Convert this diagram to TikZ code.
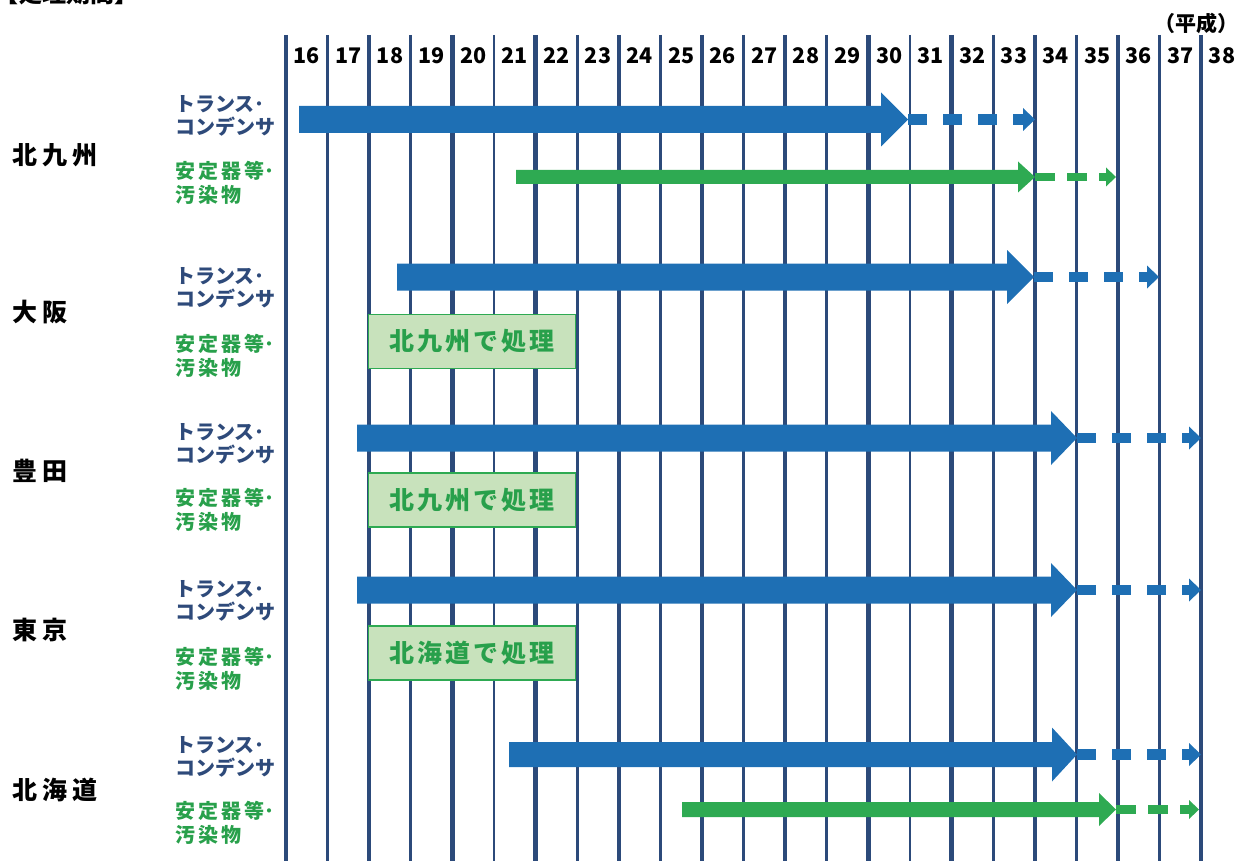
\documentclass[tikz,border=0pt]{standalone}
\usepackage{fontspec}
\setmainfont{Noto Sans CJK JP}
\definecolor{lineblue}{RGB}{44,74,122}
\definecolor{arrowblue}{RGB}{30,111,180}
\definecolor{arrowgreen}{RGB}{46,170,82}
\definecolor{labelblue}{RGB}{46,74,122}
\definecolor{labelgreen}{RGB}{40,160,75}
\definecolor{boxfill}{RGB}{200,226,188}
\definecolor{boxdraw}{RGB}{46,170,82}
% block arrow: style, x1, x2, y, half shaft, half head, head length
\newcommand{\blockarr}[7]{%
  \fill[#1] (#2,#4-#5) -- (#3-#7,#4-#5) -- (#3-#7,#4-#6) -- (#3,#4)
    -- (#3-#7,#4+#6) -- (#3-#7,#4+#5) -- (#2,#4+#5) -- cycle;}
% dashed arrow: line style, fill style, x1, x2, y, half head, head length
\newcommand{\dasharr}[7]{%
  \draw[#1] (#3,#5) -- (#4-#7,#5);
  \fill[#2] (#4-#7,#5-#6) -- (#4,#5) -- (#4-#7,#5+#6) -- cycle;}
\tikzset{
  region/.style={anchor=west, inner sep=0pt, font=\bfseries\fontsize{25}{28}\selectfont, text=black},
  bluelab/.style={anchor=west, inner sep=0pt, align=left, font=\bfseries\fontsize{20}{23.5}\selectfont, text=labelblue},
  greenlab/.style={anchor=west, inner sep=0pt, align=left, font=\bfseries\fontsize{20}{23.5}\selectfont, text=labelgreen},
  yearlab/.style={inner sep=0pt, font=\bfseries\fontsize{21.5}{21.5}\selectfont, text=black},
  procbox/.style={draw=boxdraw, line width=1.5pt, fill=boxfill, minimum width=207pt, minimum height=54pt, inner sep=0pt, font=\bfseries\fontsize{25}{25}\selectfont, text=labelgreen},
  thickv/.style={draw=lineblue, line width=4.5pt},
  thinv/.style={draw=lineblue, line width=2.7pt},
  bluefill/.style={fill=arrowblue},
  greenfill/.style={fill=arrowgreen},
  bluedash/.style={draw=arrowblue, line width=10.5pt, dash pattern=on 19pt off 16pt},
  greendash/.style={draw=arrowgreen, line width=8.5pt, dash pattern=on 20pt off 12pt},
}
\begin{document}
\begin{tikzpicture}[x=1pt,y=-1pt]
\useasboundingbox (0,0) rectangle (1236,861);
% cut-off title
\node[anchor=base west, inner sep=0pt, font=\bfseries\fontsize{24}{24}\selectfont] (title) at (-6,3) {【処理期間】};
% vertical grid lines
\foreach \i in {0,2,...,22} \draw[thickv] (286+41.6*\i,35) -- (286+41.6*\i,861);
\foreach \i in {1,3,...,21} \draw[thinv] (286+41.6*\i,35) -- (286+41.6*\i,861);
% year labels
\foreach \n [count=\k from 0] in {16,...,38}
  \node[yearlab] (y\n) at (286+41.6*\k+20.8,56) {\n};
\node[inner sep=0pt, font=\bfseries\fontsize{21}{21}\selectfont] (era) at (1196,24) {（平成）};
% region labels
\node[region] (kk) at (12,155) {北\hspace{5pt}九\hspace{5pt}州};
\node[region] (os) at (12,312) {大\hspace{5pt}阪};
\node[region] (ty) at (12,471) {豊\hspace{5pt}田};
\node[region] (tk) at (12,630) {東\hspace{5pt}京};
\node[region] (hk) at (12,790) {北\hspace{5pt}海\hspace{5pt}道};
% item labels
\foreach \nm/\yy in {a/116,b/288,c/444,d/601,e/757}
  \node[bluelab] (tl\nm) at (175,\yy) {トランス･\\コンデンサ};
\foreach \nm/\yy in {a/183,b/356,c/510,d/669,e/823}
  \node[greenlab] (gl\nm) at (175,\yy) {安\hspace{3pt}定\hspace{3pt}器\hspace{3pt}等･\\汚\hspace{3pt}染\hspace{3pt}物};
% arrows: Kitakyushu
\blockarr{bluefill}{299}{908}{119.5}{13.5}{27}{27}
\dasharr{bluedash}{bluefill}{908}{1035}{119.5}{11.5}{12}
\blockarr{greenfill}{516}{1035}{177}{7}{15.5}{17}
\dasharr{greendash}{greenfill}{1035}{1116}{177}{9.5}{10}
% Osaka
\blockarr{bluefill}{397}{1034}{277}{13.5}{27}{27}
\dasharr{bluedash}{bluefill}{1034}{1159}{277}{11.5}{12}
\node[procbox] (boxa) at (472,341.5) {北\hspace{3pt}九\hspace{3pt}州\hspace{3pt}で\hspace{3pt}処\hspace{3pt}理};
% Toyota
\blockarr{bluefill}{357}{1077}{438}{13.5}{27}{26}
\dasharr{bluedash}{bluefill}{1077}{1201}{438}{11.5}{12}
\node[procbox] (boxb) at (472,500) {北\hspace{3pt}九\hspace{3pt}州\hspace{3pt}で\hspace{3pt}処\hspace{3pt}理};
% Tokyo
\blockarr{bluefill}{357}{1077}{590}{13.5}{27}{26}
\dasharr{bluedash}{bluefill}{1077}{1201}{590}{11.5}{12}
\node[procbox] (boxc) at (472,653) {北\hspace{3pt}海\hspace{3pt}道\hspace{3pt}で\hspace{3pt}処\hspace{3pt}理};
% Hokkaido
\blockarr{bluefill}{509}{1077}{754.5}{12.5}{27}{25}
\dasharr{bluedash}{bluefill}{1077}{1201}{754.5}{11.5}{12}
\blockarr{greenfill}{682}{1116}{809.5}{7.5}{16.5}{17}
\dasharr{greendash}{greenfill}{1116}{1199}{809.5}{9.5}{10}
\end{tikzpicture}
\end{document}
